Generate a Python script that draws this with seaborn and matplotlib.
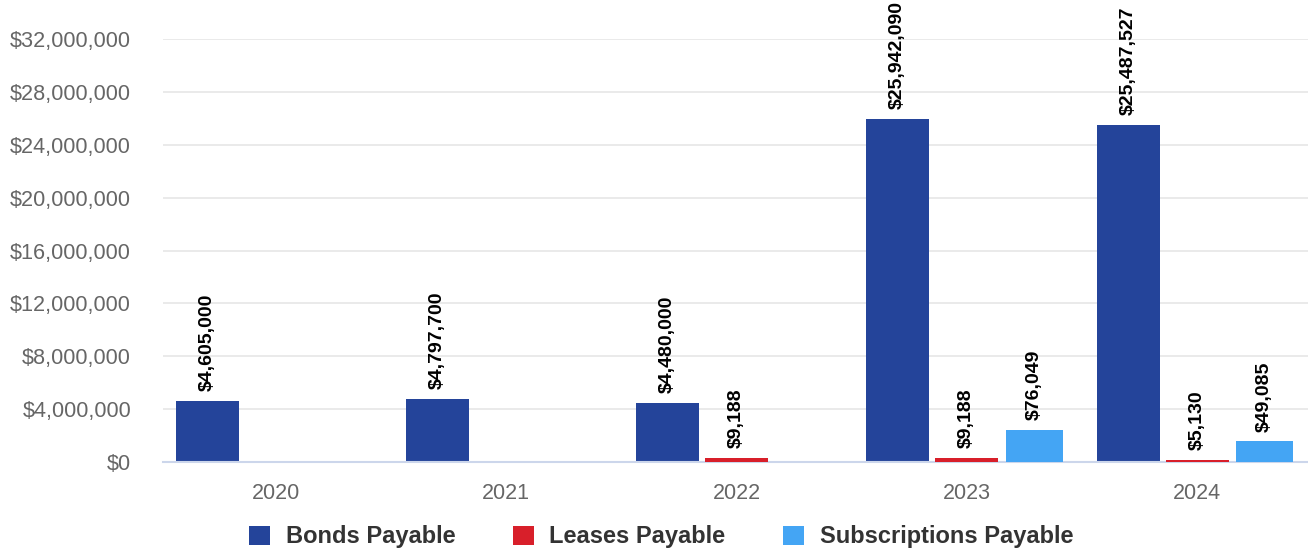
import matplotlib
matplotlib.use("Agg")
import matplotlib.pyplot as plt
import matplotlib.ticker as mticker
from matplotlib.patches import Patch
import seaborn as sns
import pandas as pd
import numpy as np

years = ["2020", "2021", "2022", "2023", "2024"]
bonds = [4605000, 4797700, 4480000, 25942090, 25487527]
leases = [None, None, 9188, 9188, 5130]
subscriptions = [None, None, None, 76049, 49085]
series_names = ["Bonds Payable", "Leases Payable", "Subscriptions Payable"]
colors = ["#24449a", "#d81f2a", "#44a5f4"]

sns.set_theme(style="white")
plt.rcParams["font.family"] = ["Liberation Sans", "DejaVu Sans"]

rows = []
for i, y in enumerate(years):
    for name, vals in zip(series_names, [bonds, leases, subscriptions]):
        rows.append({"year": y, "series": name, "value": vals[i]})
df = pd.DataFrame(rows)
df["value"] = df["value"].astype(float)

prim = df.copy()
prim.loc[prim["series"] != "Bonds Payable", "value"] = 0.0
prim["value"] = prim["value"].fillna(0.0)
sec = df.copy()
sec.loc[sec["series"] == "Bonds Payable", "value"] = 0.0
sec["value"] = sec["value"].fillna(0.0)

fig = plt.figure(figsize=(13.08, 5.52), dpi=100)
ax = fig.add_axes([163 / 1308, 1 - 462 / 552, 1 - 163 / 1308, (462 - 39) / 552])
ax2 = ax.twinx()

pal = dict(zip(series_names, colors))
common = dict(x="year", y="value", hue="series", hue_order=series_names, order=years,
              palette=pal, width=0.899, gap=0.087, errorbar=None, linewidth=0,
              saturation=1, legend=False)
sns.barplot(data=prim, ax=ax, **common)
sns.barplot(data=sec, ax=ax2, **common)

# subscriptions bars are slightly narrower in the reference
for p in ax2.containers[2]:
    c = p.get_x() + p.get_width() / 2 - 0.006
    w = 57 / 230.25
    p.set_x(c - w / 2)
    p.set_width(w)

ax.set_ylim(0, 32000000)
ax2.set_ylim(0, 1000000)
ax.set_xlim(-0.491, 4.482)
ax2.set_xlim(-0.491, 4.482)

ax.set_yticks(np.arange(0, 32000001, 4000000))
ax.yaxis.set_major_formatter(mticker.FuncFormatter(lambda v, p: "${:,.0f}".format(v)))
ax.tick_params(axis="y", length=0, pad=23, labelsize=15.6, labelcolor="#666666")
ax.tick_params(axis="x", length=0, pad=15, labelsize=15.5, labelcolor="#666666")
ax.set_xlabel("")
ax.set_ylabel("")
ax.grid(axis="y", color="#e6e6e6", linewidth=1.2)
ax.set_axisbelow(True)
for s in ["left", "right", "top"]:
    ax.spines[s].set_visible(False)
    ax2.spines[s].set_visible(False)
ax.spines["bottom"].set_color("#ccd6eb")
ax.spines["bottom"].set_linewidth(1.5)
ax2.spines["bottom"].set_visible(False)
ax2.set_yticks([])
ax2.set_ylabel("")
ax2.grid(False)

def fmt(v):
    return "" if v is None else "${:,.0f}".format(v)

lab_kw = dict(rotation=90, fontsize=14, fontweight="bold", color="#000000", padding=7, clip_on=False)
ax.bar_label(ax.containers[0], labels=[fmt(v) for v in bonds], **lab_kw)
ax2.bar_label(ax2.containers[1], labels=[fmt(v) for v in leases], **lab_kw)
ax2.bar_label(ax2.containers[2], labels=[fmt(v) for v in subscriptions], **lab_kw)

handles = [Patch(facecolor=c, edgecolor="none") for c in colors]
fig.legend(handles, series_names, loc="center", bbox_to_anchor=(661 / 1308, 1 - 537 / 552),
           ncol=3, frameon=False, prop={"size": 17, "weight": "bold"},
           labelcolor="#333333", handlelength=0.9, handleheight=0.9,
           handletextpad=0.66, columnspacing=2.42)

fig.savefig("out.png", dpi=100)
